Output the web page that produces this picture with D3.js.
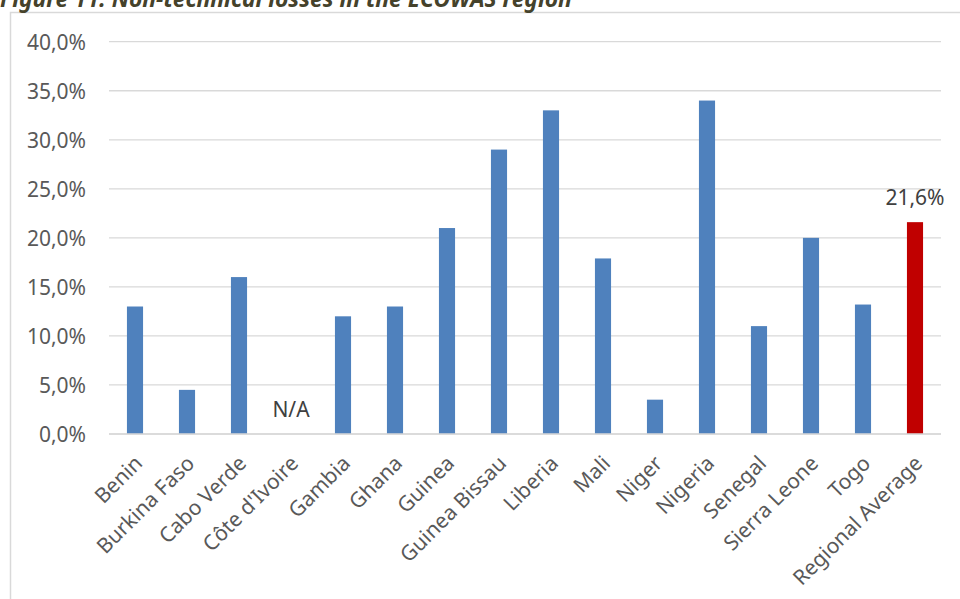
<!DOCTYPE html>
<html>
<head>
<meta charset="utf-8">
<script src="https://cdn.jsdelivr.net/npm/d3@7"></script>
<style>
  html, body { margin: 0; padding: 0; background: #fff; }
  svg { display: block; }
</style>
</head>
<body>
<svg id="chart" width="960" height="599"></svg>
<script>
// Non-technical losses by ECOWAS member state (share of energy, %)
const countries = ["Benin", "Burkina Faso", "Cabo Verde", "Côte d'Ivoire", "Gambia", "Ghana",
  "Guinea", "Guinea Bissau", "Liberia", "Mali", "Niger", "Nigeria", "Senegal",
  "Sierra Leone", "Togo", "Regional Average"];
const losses = [13, 4.5, 16, null, 12, 13, 21, 29, 33, 17.9, 3.5, 34, 11, 20, 13.2, 21.6];
const yTicks = [0, 5, 10, 15, 20, 25, 30, 35, 40];
const averageLabel = "Regional Average";
const missingText = "N/A";

const FONT = "Noto Sans, Open Sans, sans-serif";
const LABEL_SIZE = "21px";
const svg = d3.select("#chart");
const W = 960, H = 599;
const plot = { left: 109, right: 941, top: 41.7, bottom: 434 };
const fmtPct = v => d3.format(".1f")(v).replace(".", ",") + "%";

// Chart frame (continues past the window edges)
svg.append("rect")
  .attr("x", 10.5).attr("y", 12.5)
  .attr("width", W + 20).attr("height", H + 20)
  .attr("fill", "#fff").attr("stroke", "#d9d9d9").attr("stroke-width", 1.5);

// Caption above the frame
svg.append("text")
  .attr("x", 0).attr("y", 7)
  .style("font-family", FONT)
  .style("font-weight", "bold").style("font-style", "italic")
  .style("font-size", "22.8px").attr("fill", "#45422b")
  .text("Figure 11: Non-technical losses in the ECOWAS region");

const x = d3.scaleBand().domain(countries).range([plot.left, plot.right])
  .paddingInner(0.69).paddingOuter(0.345);
const y = d3.scaleLinear().domain([0, 40]).range([plot.bottom, plot.top]);

// Gridlines
svg.append("g").selectAll("line").data(yTicks).join("line")
  .attr("x1", plot.left).attr("x2", plot.right)
  .attr("y1", d => y(d)).attr("y2", d => y(d))
  .attr("stroke", "#d9d9d9").attr("stroke-width", 1.3);

// Y axis labels
const yAxis = d3.axisLeft(y).tickValues(yTicks).tickFormat(fmtPct).tickSize(0).tickPadding(0);
const gy = svg.append("g").attr("transform", `translate(${plot.left - 23},0)`).call(yAxis);
gy.attr("font-family", null).attr("font-size", null);
gy.select(".domain").remove();
gy.selectAll("text")
  .style("font-family", FONT).style("font-size", LABEL_SIZE)
  .attr("fill", "#595959").attr("dy", "0.35em");

// Bars
svg.append("g").selectAll("rect")
  .data(countries.map((c, i) => ({ c, v: losses[i] })).filter(d => d.v !== null))
  .join("rect")
  .attr("x", d => x(d.c)).attr("width", x.bandwidth())
  .attr("y", d => y(d.v)).attr("height", d => y(0) - y(d.v))
  .attr("fill", d => d.c === averageLabel ? "#c00000" : "#4f81bd");

// Missing value marker
countries.forEach((c, i) => {
  if (losses[i] === null) {
    svg.append("text")
      .attr("x", x(c) + x.bandwidth() / 2).attr("y", plot.bottom - 17)
      .attr("text-anchor", "middle")
      .style("font-family", FONT).style("font-size", LABEL_SIZE)
      .attr("fill", "#404040").text(missingText);
  }
});

// Value label for the regional average
const avgIdx = countries.indexOf(averageLabel);
svg.append("text")
  .attr("x", x(averageLabel) + x.bandwidth() / 2).attr("y", y(losses[avgIdx]) - 17)
  .attr("text-anchor", "middle")
  .style("font-family", FONT).style("font-size", LABEL_SIZE)
  .attr("fill", "#404040").text(fmtPct(losses[avgIdx]));

// Baseline axis
svg.append("line")
  .attr("x1", plot.left).attr("x2", plot.right)
  .attr("y1", y(0)).attr("y2", y(0))
  .attr("stroke", "#d9d9d9").attr("stroke-width", 1.5);

// Category labels, rotated 45 degrees
const xAxis = d3.axisBottom(x).tickSize(0).tickPadding(0);
const gx = svg.append("g").attr("transform", `translate(0,${plot.bottom})`).call(xAxis);
gx.attr("font-family", null).attr("font-size", null);
gx.select(".domain").remove();
gx.selectAll("text")
  .style("font-family", FONT).style("font-size", LABEL_SIZE)
  .attr("fill", "#595959")
  .attr("text-anchor", "end")
  .attr("dy", null).attr("y", null)
  .attr("transform", "translate(3,25) rotate(-45)")
  .attr("dominant-baseline", "central");
</script>
</body>
</html>
